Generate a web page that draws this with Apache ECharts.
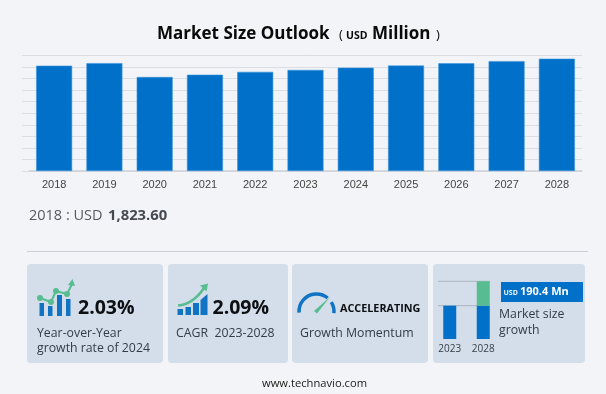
<!DOCTYPE html>
<html><head><meta charset="utf-8">
<style>html,body{margin:0;padding:0;background:#f3f4f7}#c{width:606px;height:394px}</style>
<script src="https://cdn.jsdelivr.net/npm/echarts@6/dist/echarts.min.js"></script>
</head><body><div id="c"></div>
<script>
const years = ['2018','2019','2020','2021','2022','2023','2024','2025','2026','2027','2028'];
const marketSize = [1823.6,1868,1628,1667,1717,1750,1790,1826,1866,1903,1945];
const miniYears = ['2023','2028'];
const miniBase = [1747,1747];
const miniGrowth = [0,190.4];
const FONT = '"Open Sans","Noto Sans",sans-serif';
const BLUE = '#0070c9', GREEN = '#57bd90', CARD = '#d3deea', INK = '#333c46', ICON = '#1173c4';

const chart = echarts.init(document.getElementById('c'), null, {renderer:'canvas'});

function txt(x,y,text,size,weight,fill,font,align){
  return {type:'text',x,y,z:5,style:{text,fontSize:size,fontWeight:weight||'normal',fill:fill||INK,
    fontFamily:font||FONT,align:align||'left',verticalAlign:'middle'}};
}
function rect(x,y,w,h,fill,r){
  return {type:'rect',z:1,shape:{x,y,width:w,height:h,r:r||0},style:{fill}};
}
function iconBar(x,y,w,h){return Object.assign(rect(x,y,w,h,ICON),{z:2});}
function poly(points,stroke,w){
  return {type:'polyline',z:3,shape:{points},style:{fill:'none',stroke,lineWidth:w,lineCap:'round',lineJoin:'round'}};
}
function dot(x,y,r,fill){return {type:'circle',z:4,shape:{cx:x,cy:y,r},style:{fill}};}
function tri(points,fill){return {type:'polygon',z:4,shape:{points},style:{fill}};}

const decor = [
  txt(157,34,'Market Size Outlook',17,'bold','#0a0a0a'),
  txt(339,35,'(',13,'normal','#0a0a0a'),
  txt(346,36,'USD',10.5,'bold','#0a0a0a'),
  txt(372,34,'Million',17,'bold','#0a0a0a'),
  txt(436,35,')',13,'normal','#0a0a0a'),
  txt(29,215.5,'2018 : USD',14.5,'normal','#555b62'),
  txt(108,215.5,'1,823.60',14.8,'bold','#444a50'),
  rect(27,251,561,1,'#cccdd6'),
  rect(27,264,136,99,CARD,4),
  rect(168,264,120,99,CARD,4),
  rect(292,264,136,99,CARD,4),
  rect(433,264,152,99,CARD,4),
  // icon 1
  iconBar(39.5,303,4.5,13),iconBar(48,306,4.5,10),iconBar(57,295,5,21),iconBar(66,299,4.5,17),
  poly([[40,298],[51,302],[56,291],[67,294],[72,284]],GREEN,2),
  dot(40,298,3,GREEN),dot(51,302,3,GREEN),dot(56,291,3,GREEN),dot(67,294,3,GREEN),
  tri([[68,285],[72.5,279],[75,286]],GREEN),
  txt(78,308,'2.03%',19.5,'bold','#0d0f12'),
  txt(37,333,'Year-over-Year',12.3,'normal'),
  txt(37,348,'growth rate of 2024',12.3,'normal'),
  // icon 2
  iconBar(177.5,309,5.5,6),iconBar(185.5,307,5.5,8),iconBar(193,303,6,12),
  {type:'polygon',z:2,shape:{points:[[200.5,300],[207.5,294],[207.5,315],[200.5,315]]},style:{fill:ICON}},
  {type:'bezierCurve',z:3,shape:{x1:178,y1:305.5,x2:204,y2:288,cpx1:189,cpy1:304.5,cpx2:198,cpy2:297},style:{fill:'none',stroke:GREEN,lineWidth:2.5}},
  tri([[200,285.5],[208,283.5],[206.5,291.5]],GREEN),
  txt(212.5,308,'2.09%',19.5,'bold','#0d0f12'),
  txt(176,333,'CAGR  2023-2028',12.3,'normal'),
  // gauge
  {type:'arc',z:3,shape:{cx:316.5,cy:311.5,r:17.5,startAngle:Math.PI*0.98,endAngle:Math.PI*1.72},style:{fill:'none',stroke:ICON,lineWidth:3.5}},
  {type:'arc',z:3,shape:{cx:316.5,cy:311.5,r:17.5,startAngle:Math.PI*1.82,endAngle:Math.PI*2.03},style:{fill:'none',stroke:ICON,lineWidth:3.5}},
  {type:'polygon',z:4,shape:{points:[[314,311],[330,297],[317,313.5]]},style:{fill:GREEN}},
  txt(340,309,'ACCELERATING',10.8,'bold','#0d0f12'),
  txt(300,333,'Growth Momentum',12.3,'normal'),
  // market size box
  rect(501,282,82,20,BLUE),
  txt(503.5,293,'USD',7,'bold','#eaf3fb'),
  txt(520,292,'190.4 Mn',11,'bold','#ffffff'),
  txt(499,314,'Market size',12.3,'normal'),
  txt(499,330,'growth',12.3,'normal'),
  txt(314.5,384,'www.technavio.com',11.2,'normal','#1a1a1a',FONT,'center')
];

chart.setOption({
  animation:false,
  backgroundColor:'#f3f4f7',
  grid:[
    {left:29,right:24,top:55.5,height:115.5,containLabel:false},
    {left:433,width:67,top:281.3,height:57.7,containLabel:false}
  ],
  xAxis:[
    {type:'category',gridIndex:0,data:years,axisTick:{show:false},
     axisLine:{lineStyle:{color:'#cfd0d8',width:1.5}},
     axisLabel:{color:'#444',fontSize:11,fontFamily:'"Liberation Sans",Arial,sans-serif',margin:8}},
    {type:'category',gridIndex:1,data:miniYears,z:6,axisTick:{show:false},axisLine:{show:false},
     axisLabel:{color:'#3a4048',fontSize:10,fontFamily:FONT,margin:5}}
  ],
  yAxis:[
    {type:'value',gridIndex:0,min:0,max:2000,interval:200,axisLabel:{show:false},axisLine:{show:false},
     axisTick:{show:true,length:7,lineStyle:{color:'#dcdde3'}},
     splitLine:{lineStyle:{color:'#dcdde3',width:1}}},
    {type:'value',gridIndex:1,min:1487,max:1937.4,show:false,splitLine:{show:false}}
  ],
  series:[
    {type:'bar',xAxisIndex:0,yAxisIndex:0,data:marketSize,barWidth:36,z:3,
     itemStyle:{color:BLUE,borderColor:'#3b95dc',borderWidth:0.6}},
    {type:'bar',xAxisIndex:1,yAxisIndex:1,stack:'m',data:miniBase,barWidth:13,z:3,itemStyle:{color:BLUE}},
    {type:'bar',xAxisIndex:1,yAxisIndex:1,stack:'m',data:miniGrowth,barWidth:13,z:3,itemStyle:{color:GREEN}}
  ],
  graphic:{elements:decor}
});

const yBase = chart.convertToPixel({yAxisIndex:1},miniBase[0]);
const yTop = chart.convertToPixel({yAxisIndex:1},miniBase[1]+miniGrowth[1]);
chart.setOption({graphic:{elements:decor.concat([
  {type:'line',z:2,shape:{x1:438,y1:yBase,x2:490,y2:yBase},style:{stroke:'#aab3bd',lineWidth:1}},
  {type:'line',z:2,shape:{x1:438,y1:yTop,x2:490,y2:yTop},style:{stroke:'#aab3bd',lineWidth:1}}
])}});
</script></body></html>
